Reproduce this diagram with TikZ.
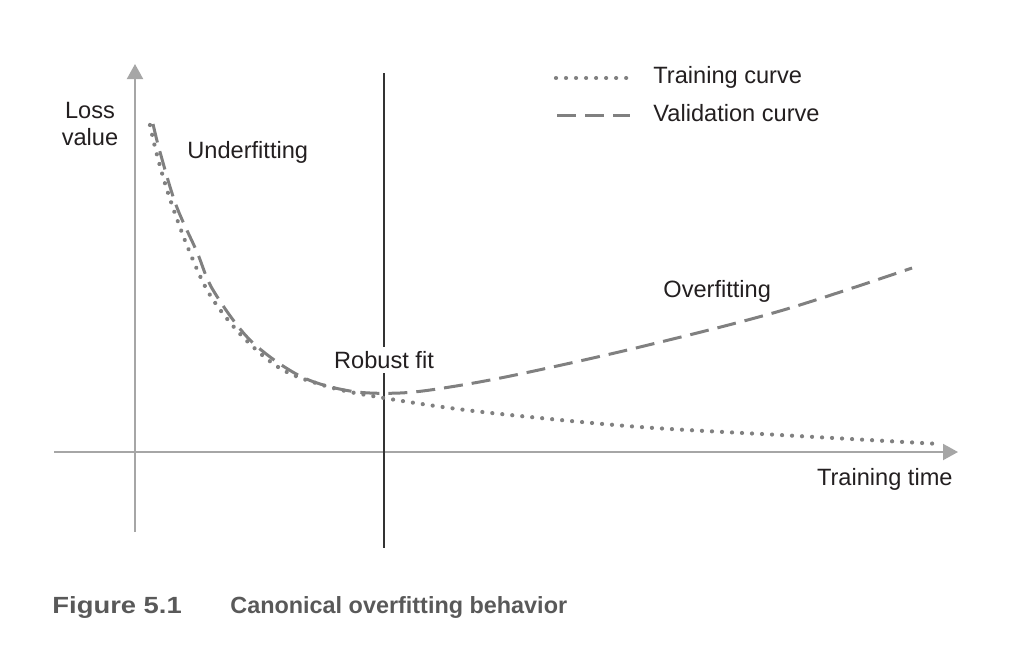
\documentclass[tikz,border=0pt]{standalone}
\usepackage{fontspec}
\setmainfont{Liberation Sans}
\usetikzlibrary{arrows.meta}
\definecolor{axisgray}{HTML}{A6A6A6}
\definecolor{curvegray}{HTML}{808080}
\definecolor{textdark}{HTML}{231F20}
\definecolor{capgray}{HTML}{595959}
\tikzset{
  axis/.style={draw=axisgray, line width=1pt, -{Triangle[length=7.5pt,width=8pt]}},
  trainline/.style={draw=curvegray, line width=2.1pt, line cap=round, dash pattern=on 0.01pt off 5pt},
  validline/.style={draw=curvegray, line width=1.5pt, dash pattern=on 9.5pt off 4.5pt},
  lbl/.style={text=textdark, font=\fontsize{11.8pt}{13.5pt}\selectfont, inner sep=1pt},
  captext/.style={text=capgray, font=\fontsize{11.7pt}{14pt}\selectfont\bfseries, inner sep=0pt, anchor=west},
  fitline/.style={draw=black!80, line width=0.9pt}
}
\begin{document}
\begin{tikzpicture}[x=0.5pt,y=-0.5pt]
\useasboundingbox (0,0) rectangle (1016,664);
% axes
\coordinate (xs) at (54,452);
\coordinate (xe) at (958,452);
\coordinate (ys) at (135,532);
\coordinate (ye) at (135,64);
\draw[axis] (xs) -- (xe);
\draw[axis] (ys) -- (ye);
% robust fit vertical line
\coordinate (vt) at (384,73);
\coordinate (vb) at (384,548);
\draw[fitline] (vt) -- (vb);
% curves
\draw[trainline] plot[smooth, tension=0.55] coordinates {(150,125) (157,155) (169,196) (188,248) (210,295) (243,337) (283,370) (333,388) (384,398) (450,408) (520,416) (640,427) (780,435) (940,444)};
\draw[validline] plot[smooth, tension=0.55] coordinates {(153,124) (160,152) (176,205) (197,252) (213,290) (250,340) (300,376) (350,391) (400,393) (450,387) (520,374) (640,347) (780,311) (912,268)};
% labels
\node[lbl, align=center] (loss) at (90,124) {Loss\\value};
\node[lbl, anchor=west] (under) at (185,152) {Underfitting};
\node[lbl, fill=white, inner sep=2pt] (robust) at (384,360) {Robust fit};
\node[lbl, anchor=west] (over) at (661,291) {Overfitting};
\node[lbl, anchor=east] (ttime) at (955,479) {Training time};
% legend
\coordinate (l1a) at (556,78);
\coordinate (l1b) at (634,78);
\coordinate (l2a) at (557,115);
\coordinate (l2b) at (630,115);
\draw[trainline] (l1a) -- (l1b);
\draw[validline] (l2a) -- (l2b);
\node[lbl, anchor=west] (tc) at (651,77) {Training curve};
\node[lbl, anchor=west] (vc) at (651,113) {Validation curve};
% caption
\node[captext, xscale=1.17] (fig) at (52,607) {Figure 5.1};
\node[captext] (capt) at (230,607) {Canonical overfitting behavior};
\end{tikzpicture}
\end{document}
